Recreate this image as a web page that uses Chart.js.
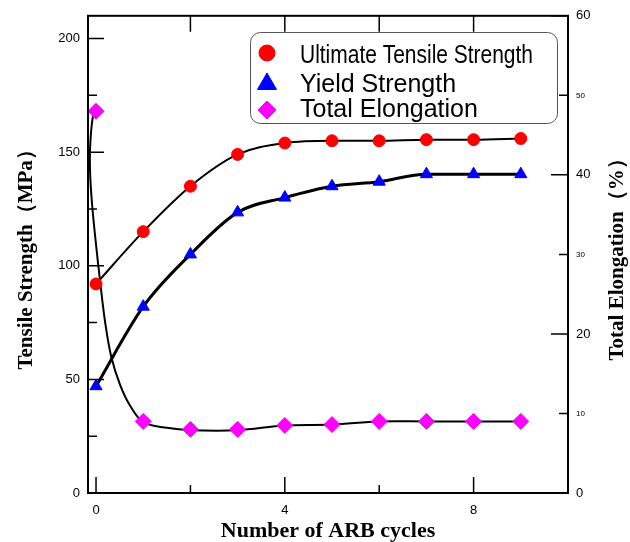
<!DOCTYPE html>
<html lang="en">
<head>
    <meta charset="UTF-8">
    <title>ARB cycles</title>
    <style>
        body {
            margin: 0;
            padding: 0;
            background-color: #fff;
        }

        #wrap {
            width: 630px;
            height: 542px;
            position: relative;
        }
    </style>
</head>
<body>
    <div id="wrap">
        <canvas id="arbChart"></canvas>
    </div>

    <script src="https://cdn.jsdelivr.net/npm/chart.js"></script>
    <script>
        // measured values
        var cycles = [0, 1, 2, 3, 4, 5, 6, 7, 8, 9];
        var uts = [92, 115, 135, 149, 154, 155, 155, 155.5, 155.5, 156];
        var yieldStr = [47, 82, 105, 123.5, 130, 135, 137, 140.3, 140.3, 140.3];
        var elong = [48, 9, 8, 8, 8.5, 8.6, 9, 9, 9, 9];

        // fitted elongation curve
        var elongFitX = [0, -0.07, -0.125, -0.125, -0.085, -0.01, 0.085, 0.19, 0.32, 0.51, 0.72, 1.0, 1.5, 2, 3, 4, 5, 6, 7, 8, 9];
        var elongFitY = [48, 47.2, 43.5, 40.2, 36.4, 31.8, 26.7, 21.6, 17.2, 13.6, 11.0, 8.9, 8.2, 7.9, 7.9, 8.5, 8.6, 9.0, 9.0, 9.0, 9.0];

        // axis ticks
        var xTicks = [0, 4, 8];
        var xMinor = [2, 6];
        var xTopTicks = [2, 4, 6, 8];
        var leftTicks = [0, 50, 100, 150, 200];
        var leftMinor = [25, 75, 125, 175];
        var rightTicks = [0, 10, 20, 30, 40, 50, 60];

        var serif = '"Liberation Serif", "Times New Roman", serif';
        var sans = '"Liberation Sans", Arial, sans-serif';

        function pts(xs, ys) {
            return xs.map((x, i) => ({ x: x, y: ys[i] }));
        }

        function setTicks(arr) {
            return function (scale) {
                scale.ticks = arr.map(v => ({ value: v }));
            };
        }

        // inner ticks, frame, titles and legend
        var decor = {
            id: 'decor',
            afterDraw: function (chart) {
                var ctx = chart.ctx;
                var a = chart.chartArea;
                var xs = chart.scales.x, ys = chart.scales.y, y2 = chart.scales.y2;
                ctx.save();
                ctx.strokeStyle = '#000';
                ctx.lineWidth = 2;
                ctx.strokeRect(a.left, a.top, a.right - a.left, a.bottom - a.top);

                ctx.lineWidth = 1.5;
                ctx.beginPath();
                leftTicks.forEach(v => { var p = ys.getPixelForValue(v); ctx.moveTo(a.left, p); ctx.lineTo(a.left + 16, p); });
                leftMinor.forEach(v => { var p = ys.getPixelForValue(v); ctx.moveTo(a.left, p); ctx.lineTo(a.left + 9, p); });
                rightTicks.forEach(v => {
                    var p = y2.getPixelForValue(v);
                    ctx.moveTo(a.right, p); ctx.lineTo(a.right - (v % 20 === 0 ? 17 : 9), p);
                });
                xTicks.forEach(v => { var p = xs.getPixelForValue(v); ctx.moveTo(p, a.bottom); ctx.lineTo(p, a.bottom - 16); });
                xMinor.forEach(v => { var p = xs.getPixelForValue(v); ctx.moveTo(p, a.bottom); ctx.lineTo(p, a.bottom - 8); });
                xTopTicks.forEach(v => { var p = xs.getPixelForValue(v); ctx.moveTo(p, a.top); ctx.lineTo(p, a.top + 16); });
                ctx.stroke();

                // axis titles
                ctx.fillStyle = '#000';
                ctx.font = 'bold 21px ' + serif;
                ctx.textAlign = 'center';
                ctx.textBaseline = 'middle';
                var midY = (a.top + a.bottom) / 2;
                ctx.save();
                ctx.translate(27, midY);
                ctx.rotate(-Math.PI / 2);
                ctx.fillText('Tensile Strength（MPa）', 0, 0);
                ctx.restore();
                ctx.save();
                ctx.translate(618, midY);
                ctx.rotate(-Math.PI / 2);
                ctx.fillText('Total Elongation（%）', 0, 0);
                ctx.restore();
                ctx.font = 'bold 22px ' + serif;
                ctx.textBaseline = 'alphabetic';
                ctx.fillText('Number of ARB cycles', (a.left + a.right) / 2, 537);

                // legend box
                ctx.lineWidth = 1;
                ctx.strokeStyle = '#555';
                ctx.fillStyle = '#fff';
                ctx.beginPath();
                ctx.roundRect(250.5, 32.5, 307, 91, 10);
                ctx.fill();
                ctx.stroke();
                var items = [
                    { text: 'Ultimate Tensile Strength', style: 'circle', r: 8, color: '#ff0000', my: 53, by: 63, maxW: 233 },
                    { text: 'Yield Strength', style: 'triangle', r: 11, color: '#0000ff', my: 84, by: 92 },
                    { text: 'Total Elongation', style: 'rectRot', r: 9, color: '#ff00ff', my: 110, by: 117 }
                ];
                ctx.font = '25px ' + sans;
                ctx.textAlign = 'left';
                items.forEach(it => {
                    ctx.fillStyle = it.color;
                    ctx.strokeStyle = it.color;
                    Chart.helpers.drawPoint(ctx, { pointStyle: it.style, radius: it.r, borderWidth: 1 }, 267, it.my);
                    ctx.fillStyle = '#000';
                    if (it.maxW) ctx.fillText(it.text, 300, it.by, it.maxW);
                    else ctx.fillText(it.text, 300, it.by);
                });
                ctx.restore();
            }
        };

        var ctx = document.getElementById('arbChart').getContext('2d');
        var arbChart = new Chart(ctx, {
            type: 'scatter',
            data: {
                datasets: [
                    {
                        label: 'Ultimate Tensile Strength',
                        data: pts(cycles, uts),
                        yAxisID: 'y',
                        showLine: false,
                        pointStyle: 'circle',
                        pointRadius: 6,
                        backgroundColor: '#ff0000',
                        borderColor: '#ff0000',
                        order: 1
                    },
                    {
                        label: 'Yield Strength',
                        data: pts(cycles, yieldStr),
                        yAxisID: 'y',
                        showLine: false,
                        pointStyle: 'triangle',
                        pointRadius: 7,
                        backgroundColor: '#0000ff',
                        borderColor: '#0000ff',
                        order: 1
                    },
                    {
                        label: 'Total Elongation',
                        data: pts(cycles, elong),
                        yAxisID: 'y2',
                        showLine: false,
                        pointStyle: 'rectRot',
                        pointRadius: 8,
                        backgroundColor: '#ff00ff',
                        borderColor: '#ff00ff',
                        order: 1
                    },
                    {
                        label: 'UTS fit',
                        data: pts(cycles, uts),
                        yAxisID: 'y',
                        showLine: true,
                        pointRadius: 0,
                        borderColor: '#000',
                        borderWidth: 2,
                        cubicInterpolationMode: 'monotone',
                        order: 2
                    },
                    {
                        label: 'YS fit',
                        data: pts(cycles, yieldStr),
                        yAxisID: 'y',
                        showLine: true,
                        pointRadius: 0,
                        borderColor: '#000',
                        borderWidth: 3,
                        cubicInterpolationMode: 'monotone',
                        order: 2
                    },
                    {
                        label: 'Elongation fit',
                        data: pts(elongFitX, elongFitY),
                        yAxisID: 'y2',
                        showLine: true,
                        pointRadius: 0,
                        borderColor: '#000',
                        borderWidth: 2,
                        tension: 0.35,
                        order: 2
                    }
                ]
            },
            options: {
                responsive: true,
                maintainAspectRatio: false,
                animation: false,
                layout: { padding: { top: 15, left: 0, right: 0, bottom: 0 } },
                plugins: {
                    legend: { display: false },
                    tooltip: { enabled: false }
                },
                scales: {
                    x: {
                        type: 'linear',
                        min: -0.17,
                        max: 10,
                        afterBuildTicks: setTicks(xTicks),
                        afterFit: s => { s.height = 49; },
                        grid: { display: false, drawTicks: false },
                        border: { display: false },
                        ticks: { padding: 10, color: '#000', font: { family: sans, size: 13 } }
                    },
                    y: {
                        position: 'left',
                        min: 0,
                        max: 210,
                        afterBuildTicks: setTicks(leftTicks),
                        afterFit: s => { s.width = 88; },
                        grid: { display: false, drawTicks: false },
                        border: { display: false },
                        ticks: { padding: 8, color: '#000', font: { family: sans, size: 13 } }
                    },
                    y2: {
                        position: 'right',
                        min: 0,
                        max: 60,
                        afterBuildTicks: setTicks(rightTicks),
                        afterFit: s => { s.width = 62; },
                        grid: { display: false, drawTicks: false },
                        border: { display: false },
                        ticks: {
                            padding: 8,
                            color: '#000',
                            font: c => ({ family: sans, size: c.tick && c.tick.value % 20 === 0 ? 13 : 8 })
                        }
                    }
                }
            },
            plugins: [decor]
        });
    </script>
</body>
</html>
